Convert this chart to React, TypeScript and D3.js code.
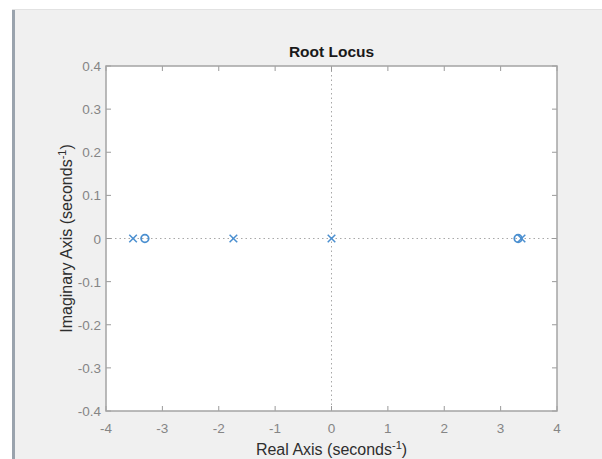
import React from "react";
import * as d3 from "d3";

const xTicks = [-4, -3, -2, -1, 0, 1, 2, 3, 4];
const yTicks = [-0.4, -0.3, -0.2, -0.1, 0, 0.1, 0.2, 0.3, 0.4];
const poleRe = [-3.52, -1.74, 0, 3.37];
const poleIm = [0, 0, 0, 0];
const zeroRe = [-3.31, 3.31];
const zeroIm = [0, 0];

const W = 602, H = 459;
const L = 106, R = 557, T = 66, B = 411;
const FONT = "'Liberation Sans', Arial, Helvetica, sans-serif";
const BLUE = "#4a8fd0";

export default function App() {
  const x = d3.scaleLinear().domain([-4, 4]).range([L, R]);
  const y = d3.scaleLinear().domain([-0.4, 0.4]).range([B, T]);
  const tk = 5;
  const s = 3.8;
  return (
    <svg width={W} height={H} style={{ position: "absolute", left: 0, top: 0 }}>
      <rect x={0} y={0} width={W} height={H} fill="#ffffff" />
      <rect x={12} y={10} width={W - 12} height={H - 10} fill="#f0f0f0" />
      <line x1={12} y1={9.5} x2={W} y2={9.5} stroke="#e2e2e2" strokeWidth={1} />
      <line x1={13.5} y1={10} x2={13.5} y2={H} stroke="#9aa3ad" strokeWidth={3} />
      <rect x={L} y={T} width={R - L} height={B - T} fill="#ffffff" />
      {/* dotted axes */}
      <line x1={L} x2={R} y1={y(0)} y2={y(0)} stroke="#a8a8a8" strokeWidth={1} strokeDasharray="1.5,3" />
      <line x1={x(0)} x2={x(0)} y1={T} y2={B} stroke="#a8a8a8" strokeWidth={1} strokeDasharray="1.5,3" />
      {/* ticks */}
      {xTicks.map((t) => (
        <g key={"x" + t}>
          <line x1={x(t)} x2={x(t)} y1={B} y2={B - tk} stroke="#9a9a9a" />
          <line x1={x(t)} x2={x(t)} y1={T} y2={T + tk} stroke="#9a9a9a" />
          <text x={x(t)} y={B + 22} textAnchor="middle" fontFamily={FONT} fontSize={13.5} fill="#858585">
            {t}
          </text>
        </g>
      ))}
      {yTicks.map((t) => (
        <g key={"y" + t}>
          <line x1={L} x2={L + tk} y1={y(t)} y2={y(t)} stroke="#9a9a9a" />
          <line x1={R} x2={R - tk} y1={y(t)} y2={y(t)} stroke="#9a9a9a" />
          <text x={L - 5} y={y(t) + 5} textAnchor="end" fontFamily={FONT} fontSize={13.5} fill="#858585">
            {Math.abs(t) < 1e-9 ? "0" : String(t)}
          </text>
        </g>
      ))}
      <rect x={L} y={T} width={R - L} height={B - T} fill="none" stroke="#a4a4a4" strokeWidth={1.5} />
      {/* poles */}
      {poleRe.map((re, i) => (
        <g key={"p" + i} stroke={BLUE} strokeWidth={1.5}>
          <line x1={x(re) - s} y1={y(poleIm[i]) - s} x2={x(re) + s} y2={y(poleIm[i]) + s} />
          <line x1={x(re) - s} y1={y(poleIm[i]) + s} x2={x(re) + s} y2={y(poleIm[i]) - s} />
        </g>
      ))}
      {/* zeros */}
      {zeroRe.map((re, i) => (
        <circle key={"z" + i} cx={x(re)} cy={y(zeroIm[i])} r={3.8} fill="none" stroke={BLUE} strokeWidth={1.8} />
      ))}
      <text x={(L + R) / 2} y={57} textAnchor="middle" fontFamily={FONT} fontSize={15.5} fontWeight="bold" fill="#1a1a1a">
        Root Locus
      </text>
      <text x={(L + R) / 2} y={455} textAnchor="middle" fontFamily={FONT} fontSize={16} fill="#2e2e2e">
        Real Axis (seconds<tspan dy={-6} fontSize={11}>-1</tspan><tspan dy={6}>)</tspan>
      </text>
      <text transform={`translate(72,${(T + B) / 2}) rotate(-90)`} textAnchor="middle" fontFamily={FONT} fontSize={16} fill="#2e2e2e">
        Imaginary Axis (seconds<tspan dy={-6} fontSize={11}>-1</tspan><tspan dy={6}>)</tspan>
      </text>
    </svg>
  );
}
